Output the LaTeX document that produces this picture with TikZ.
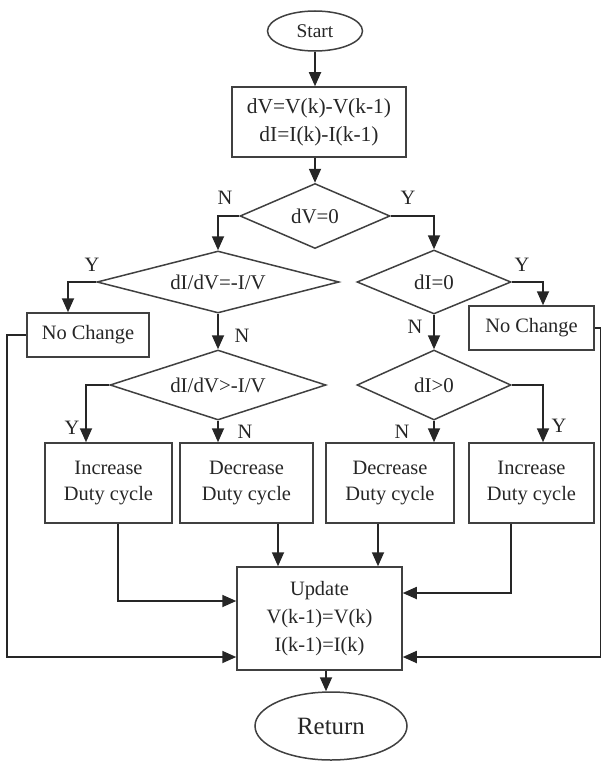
\documentclass[tikz,border=0pt]{standalone}
\usepackage{fontspec}
\setmainfont{Liberation Serif}
\usetikzlibrary{shapes.geometric,arrows.meta}
\begin{document}
\begin{tikzpicture}[x=1bp,y=-1bp,
  every node/.style={font=\fontsize{20.5}{26}\selectfont, text=black!85},
  boxn/.style={draw=black!75, line width=1.5bp, rectangle, inner sep=0pt, align=center},
  dian/.style={draw=black!75, line width=1.5bp, diamond, aspect=4, inner sep=0pt, font=\fontsize{21}{26}\selectfont},
  elln/.style={draw=black!75, line width=1.5bp, ellipse, inner sep=0pt},
  conn/.style={draw=black!85, line width=1.8bp},
  arr/.style={conn, -{Triangle[length=14bp,width=12bp]}},
  lab/.style={inner sep=0pt}
]
\useasboundingbox (0,0) rectangle (601,762);
% nodes
\node[elln, minimum width=95bp, minimum height=40bp, font=\fontsize{19.5}{22}\selectfont] (start) at (315,31) {Start};
\node[boxn, minimum width=174bp, minimum height=70bp, font=\fontsize{21.5}{28}\selectfont] (calc) at (319,122) {dV=V(k)-V(k-1)\\dI=I(k)-I(k-1)};
\node[dian, minimum width=150bp, minimum height=65bp] (dv0) at (315,216) {dV=0};
\node[dian, minimum width=242bp, minimum height=62bp] (d2) at (218,282) {dI/dV=-I/V};
\node[boxn, minimum width=122bp, minimum height=44bp] (nc1) at (88,335) {No Change};
\node[dian, minimum width=216bp, minimum height=70bp] (d3) at (218,385) {dI/dV>-I/V};
\node[dian, minimum width=154bp, minimum height=64bp] (d4) at (434,282) {dI=0};
\node[boxn, minimum width=125bp, minimum height=44bp] (nc2) at (531.5,328) {No Change};
\node[dian, minimum width=154bp, minimum height=70bp] (d5) at (434,385) {dI>0};
\node[boxn, minimum width=127bp, minimum height=80bp] (inc1) at (108.5,483) {Increase\\Duty cycle};
\node[boxn, minimum width=133bp, minimum height=80bp] (dec1) at (246.5,483) {Decrease\\Duty cycle};
\node[boxn, minimum width=128bp, minimum height=80bp] (dec2) at (390,483) {Decrease\\Duty cycle};
\node[boxn, minimum width=125bp, minimum height=80bp] (inc2) at (531.5,483) {Increase\\Duty cycle};
\node[boxn, minimum width=165bp, minimum height=103bp, font=\fontsize{20.5}{28}\selectfont] (upd) at (319.5,618.5) {Update\\V(k-1)=V(k)\\I(k-1)=I(k)};
\node[elln, minimum width=152bp, minimum height=68bp, font=\fontsize{25}{30}\selectfont] (ret) at (331,726) {Return};
% connectors
\draw[arr] (start.south) -- (start.south |- calc.north);
\draw[arr] (calc.south -| dv0.north) -- (dv0.north);
\draw[arr] (dv0.west) -| (d2.north);
\draw[arr] (dv0.east) -| (d4.north);
\draw[arr] (d2.west) -| ([xshift=-20bp]nc1.north);
\draw[arr] (d2.south) -- (d3.north);
\draw[arr] (d3.west) -| ([xshift=-22.5bp]inc1.north);
\draw[arr] (d3.south) -- (d3.south |- dec1.north);
\draw[arr] (d4.east) -| ([xshift=11.5bp]nc2.north);
\draw[arr] (d4.south) -- (d5.north);
\draw[arr] (d5.east) -| ([xshift=11.5bp]inc2.north);
\draw[arr] (d5.south) -- (d5.south |- dec2.north);
\draw[arr] ([xshift=9.5bp]inc1.south) |- ([yshift=17.5bp]upd.west);
\draw[arr] ([xshift=31.5bp]dec1.south) -- ([xshift=31.5bp]dec1.south |- upd.north);
\draw[arr] ([xshift=-12bp]dec2.south) -- ([xshift=-12bp]dec2.south |- upd.north);
\draw[arr] ([xshift=-20.5bp]inc2.south) |- ([yshift=25.5bp]upd.east);
\draw[arr] (nc1.west) -- ++(-19,0) |- ([yshift=-38.5bp]upd.west);
\draw[arr] (nc2.east) -- ++(6,0) |- ([yshift=-38.5bp]upd.east);
\draw[arr] ([xshift=6.5bp]upd.south) -- ([xshift=6.5bp]upd.south |- ret.north);
% labels
\node[lab] (ln1) at (225,198) {N};
\node[lab] (ly1) at (408,198) {Y};
\node[lab] (ly2) at (92,265) {Y};
\node[lab] (ln2) at (242,336) {N};
\node[lab] (ly3) at (72,428) {Y};
\node[lab] (ln3) at (245,432) {N};
\node[lab] (ly4) at (522,265) {Y};
\node[lab] (ln4) at (415,327) {N};
\node[lab] (ly5) at (559,426) {Y};
\node[lab] (ln5) at (402,432) {N};
\end{tikzpicture}
\end{document}
